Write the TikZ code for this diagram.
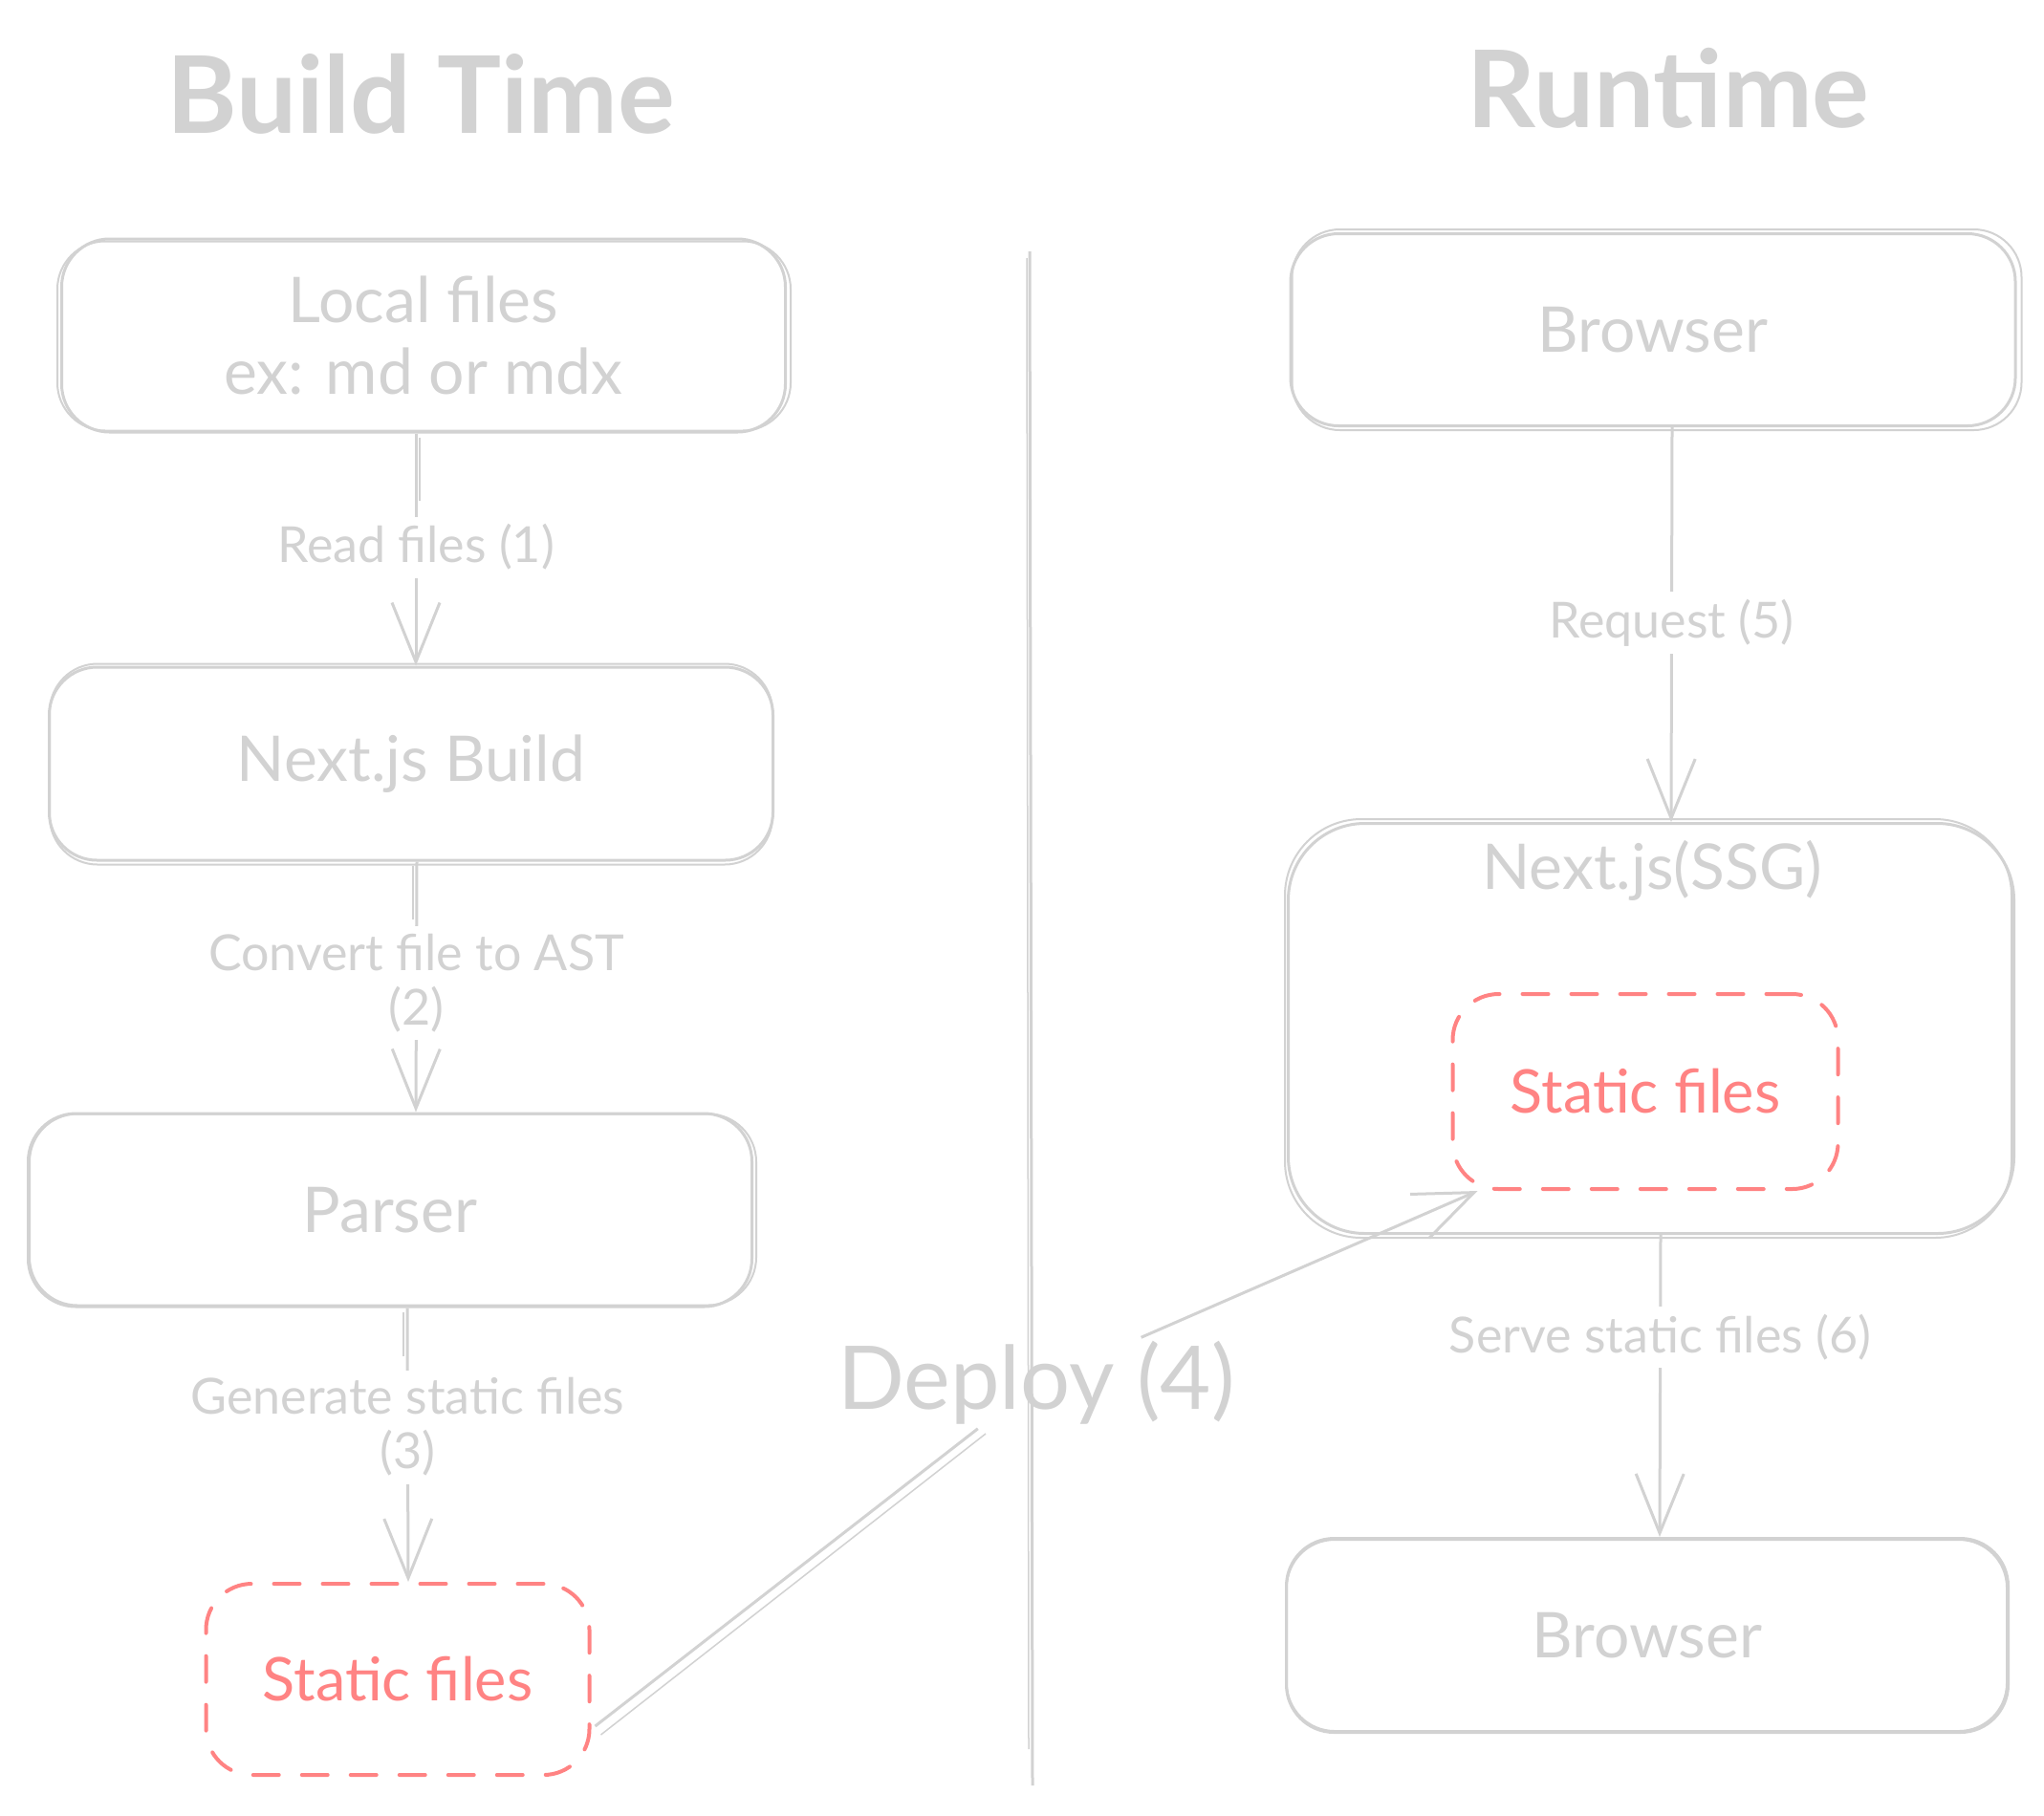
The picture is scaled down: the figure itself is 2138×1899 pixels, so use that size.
\documentclass[tikz,border=0pt]{standalone}
\usepackage{fontspec}
\setmainfont{Lato}
\usetikzlibrary{arrows.meta}
\definecolor{sk}{RGB}{210,210,210}
\definecolor{rd}{RGB}{255,131,131}
\begin{document}
\begin{tikzpicture}[x=1pt,y=-1pt,
  box/.style={draw=sk, line width=3pt, rounded corners=50pt, minimum width=757pt, minimum height=202pt, inner sep=0pt, text=sk, font=\fontsize{66}{75}\selectfont, align=center},
  redbox/.style={draw=rd, line width=4pt, dash pattern=on 27pt off 24pt, line cap=round, rounded corners=48pt, minimum width=401pt, minimum height=200pt, inner sep=0pt, text=rd, font=\fontsize{63}{75}\selectfont},
  sketch/.style={draw=sk, line width=2pt},
  thin/.style={draw=sk, line width=1.5pt},
  arr/.style={draw=sk, line width=3pt, -{Straight Barb[length=62pt,width=50pt,line width=3pt]}},
  lbl/.style={fill=white, text=sk, inner sep=8pt, font=\fontsize{52}{57}\selectfont, align=center},
  ttl/.style={text=sk, font=\fontsize{112}{130}\selectfont\bfseries},
]
\useasboundingbox (0,0) rectangle (2138,1899);
\fill[white] (0,0) rectangle (2138,1899);

% titles
\node[ttl] (t1) at (440,98) {Build Time};
\node[ttl] (t2) at (1745,92) {Runtime};

% divider
\coordinate (dvA) at (1077,263);
\coordinate (dvB) at (1080,1868);
\coordinate (dvC) at (1074,270);
\coordinate (dvD) at (1076,1830);
\draw[sk, line width=3pt] (dvA) -- (dvB);
\draw[thin] (dvC) -- (dvD);

% left column
\node[box] (lf) at (443,351) {Local files\\ex: md or mdx};
\node[box] (nb) at (430,799) {Next.js Build};
\node[box] (ps) at (408,1266) {Parser};
\node[redbox] (sl) at (416,1757) {Static files};

% right column
\node[box, minimum width=758pt, minimum height=201pt] (br1) at (1729,345) {Browser};
\node[box, minimum width=759pt, minimum height=429pt, rounded corners=80pt] (ssg) at (1727,1076) {};
\node[text=sk, font=\fontsize{66}{75}\selectfont, inner sep=0pt] (ssgl) at (1728,911) {Next.js(SSG)};
\node[redbox, minimum width=403pt, minimum height=204pt] (sr) at (1721,1142) {Static files};
\node[box, minimum width=755pt, minimum height=203pt] (br2) at (1723,1711) {Browser};

% sketchy second strokes
\draw[sketch, rounded corners=50pt] ([shift={(-3,4)}]lf.north west) rectangle ([shift={(4,-3)}]lf.south east);
\draw[sketch, rounded corners=50pt] ([shift={(2,-2)}]nb.north west) rectangle ([shift={(-2,3)}]nb.south east);
\draw[sketch, rounded corners=50pt] ([shift={(3,2)}]ps.north west) rectangle ([shift={(3,-3)}]ps.south east);
\draw[sketch, rounded corners=50pt] ([shift={(3,-3)}]br1.north west) rectangle ([shift={(5,3)}]br1.south east);
\draw[sketch, rounded corners=80pt] ([shift={(-2,-3)}]ssg.north west) rectangle ([shift={(-4,3)}]ssg.south east);
\draw[sketch, rounded corners=50pt] ([shift={(2,3)}]br2.north west) rectangle ([shift={(-3,-3)}]br2.south east);

% arrow shaft second strokes (short, above labels)
\draw[thin] ([shift={(-4,4)}]lf.south) -- ([shift={(-4,70)}]lf.south);
\draw[thin] ([shift={(2,4)}]nb.south) -- ([shift={(2,60)}]nb.south);
\draw[thin] ([shift={(14,4)}]ps.south) -- ([shift={(14,50)}]ps.south);

% connectors
\draw[arr] ([xshift=-8]lf.south) -- node[lbl, pos=0.49] (l1) {Read files (1)} ([xshift=5]nb.north);
\draw[arr] ([xshift=6]nb.south) -- node[lbl, pos=0.485] (l2) {Convert file to AST\\(2)} ([xshift=27]ps.north);
\draw[arr] ([xshift=18]ps.south) -- node[lbl, pos=0.435] (l3) {Generate static files\\(3)} ([xshift=11]sl.north);
\draw[arr] ([xshift=20]br1.south) -- node[lbl, pos=0.495] (l5) {Request (5)} ([xshift=21]ssg.north);
\draw[arr] ([xshift=10]ssg.south) -- node[lbl, pos=0.34] (l6) {Serve static files (6)} ([xshift=13]br2.north);

% deploy
\node[text=sk, font=\fontsize{92}{100}\selectfont, inner sep=4pt] (dep) at (1084,1447) {Deploy (4)};
\coordinate (dp2) at (1031,1500);
\draw[sk, line width=3pt] ([shift={(4,49)}]sl.east) -- (dep);
\draw[thin] ([shift={(10,58)}]sl.east) -- (dp2);
\draw[arr] (dep) -- ([xshift=28]sr.south west);
\end{tikzpicture}
\end{document}
